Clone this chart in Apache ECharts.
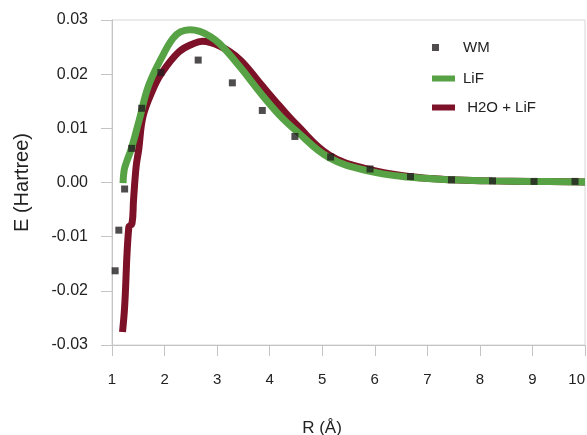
<!DOCTYPE html>
<html>
<head>
<meta charset="utf-8">
<script src="https://cdn.jsdelivr.net/npm/echarts@6/dist/echarts.min.js"></script>
<style>
  html, body { margin: 0; padding: 0; background: #fff; }
  #chart { width: 587px; height: 435px; }
</style>
</head>
<body>
<div id="chart"></div>
<script>
// WM reference points
const wmR = [1.06, 1.13, 1.24, 1.375, 1.565, 1.93, 2.64, 3.29, 3.86, 4.48, 5.16, 5.91, 6.68, 7.46, 8.24, 9.03, 9.81];
const wmE = [-0.0163, -0.0088, -0.0012, 0.0063, 0.0137, 0.0203, 0.0226, 0.0184, 0.0133, 0.0085, 0.0047, 0.0025, 0.0011, 0.0005, 0.0003, 0.0002, 0.0002];

// LiF curve
const lifR = [1.21, 1.23, 1.27, 1.37, 1.52, 1.70, 1.99, 2.16, 2.30, 2.48, 2.67, 2.86, 3.05, 3.43, 3.81, 4.19, 4.51, 5.13, 5.89, 6.65, 7.46, 8.24, 9.0, 10.0];
const lifE = [-0.0001, 0.0022, 0.0036, 0.0063, 0.0116, 0.0180, 0.0239, 0.0266, 0.0278, 0.0282, 0.0279, 0.0270, 0.0256, 0.0214, 0.0167, 0.0124, 0.0095, 0.0046, 0.0021, 0.0010, 0.0005, 0.0003, 0.0002, 0.0001];

// H2O + LiF curve
const h2oR = [1.20, 1.24, 1.32, 1.38, 1.41, 1.46, 1.51, 1.59, 1.78, 1.93, 2.27, 2.54, 2.72, 3.05, 3.43, 3.81, 4.19, 4.51, 5.13, 5.89, 6.65, 7.46, 8.24, 9.0, 10.0];
const h2oE = [-0.0276, -0.0230, -0.0082, -0.0076, -0.0032, 0.0030, 0.0062, 0.0122, 0.0172, 0.0200, 0.0241, 0.0256, 0.0261, 0.0252, 0.0227, 0.0184, 0.0141, 0.0107, 0.0051, 0.0024, 0.0011, 0.0005, 0.0003, 0.0002, 0.0001];

const zip = (a, b) => a.map((v, i) => [v, b[i]]);
const font = 'Liberation Sans, Arial, sans-serif';
const gray = '#c4c4c4';
const green = '#57a244';
const red = '#7c1128';

const chart = echarts.init(document.getElementById('chart'));

chart.setOption({
    animation: false,
    backgroundColor: '#fff',
    grid: {
        left: 112, right: 2, top: 20, bottom: 90,
        outerBoundsMode: 'none',
        containLabel: false,
        show: true, borderColor: '#d6d6d6', borderWidth: 1
    },
    legend: [{
        data: ['WM'],
        left: 432, top: 40,
        padding: 0,
        itemWidth: 7, itemHeight: 7,
        icon: 'rect',
        textStyle: { color: '#222', fontSize: 15, fontFamily: font, padding: [0, 0, 0, 19] }
    }, {
        data: ['LiF', ' H2O + LiF'],
        left: 432, top: 71,
        padding: 0,
        orient: 'vertical',
        itemWidth: 23, itemHeight: 6,
        itemGap: 14,
        icon: 'rect',
        textStyle: { color: '#222', fontSize: 15, fontFamily: font, padding: [0, 0, 0, 3] }
    }],
    xAxis: {
        type: 'value',
        min: 1, max: 10, interval: 1,
        name: 'R (Å)',
        nameLocation: 'middle',
        nameGap: 75,
        nameTextStyle: { color: '#222', fontSize: 17, fontFamily: font, padding: [0, 53, 0, 0] },
        axisLine: { show: true, onZero: false, lineStyle: { color: gray } },
        axisTick: { show: true, inside: false, length: 11, lineStyle: { color: gray, width: 1 } },
        axisLabel: { color: '#222', fontSize: 15, fontFamily: font, margin: 27, alignMaxLabel: 'right' },
        splitLine: { show: false }
    },
    yAxis: {
        type: 'value',
        min: -0.03, max: 0.03, interval: 0.01,
        name: 'E (Hartree)',
        nameLocation: 'middle',
        nameGap: 80,
        nameTextStyle: { color: '#222', fontSize: 20, fontFamily: font },
        axisLine: { show: true, onZero: false, lineStyle: { color: gray } },
        axisTick: { show: true, inside: false, length: 11, lineStyle: { color: gray, width: 1 } },
        axisLabel: {
            color: '#222', fontSize: 16, fontFamily: font, margin: 24,
            formatter: v => (Math.round(v * 100) / 100).toFixed(2).replace('-0.00', '0.00')
        },
        splitLine: { show: false }
    },
    series: [{
        name: ' H2O + LiF',
        type: 'line',
        data: zip(h2oR, h2oE),
        showSymbol: false,
        smooth: 0.4,
        lineStyle: { color: red, width: 7 },
        itemStyle: { color: red },
        z: 2
    }, {
        name: 'LiF',
        type: 'line',
        data: zip(lifR, lifE),
        showSymbol: false,
        smooth: 0.4,
        lineStyle: { color: green, width: 7 },
        itemStyle: { color: green },
        z: 3
    }, {
        name: 'WM',
        type: 'scatter',
        data: zip(wmR, wmE),
        symbol: 'rect',
        symbolSize: 7,
        itemStyle: { color: '#231f20' },
        z: 4
    }]
});
</script>
</body>
</html>
